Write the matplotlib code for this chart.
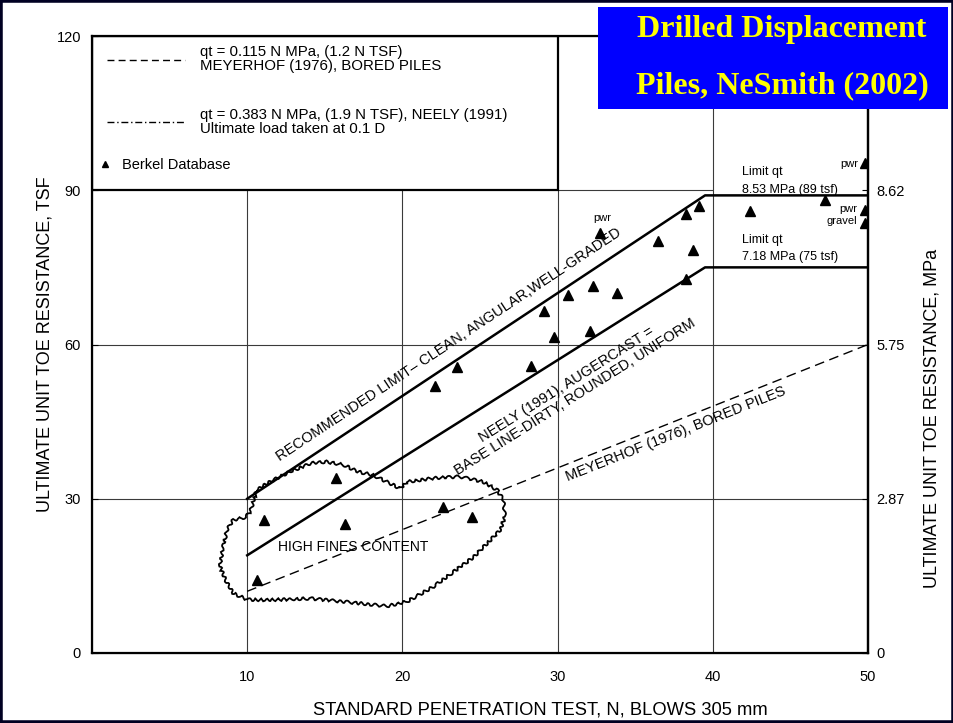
import numpy as np
import matplotlib.pyplot as plt
from matplotlib.lines import Line2D
from matplotlib.patches import Polygon, Rectangle

plt.rcParams['font.family'] = ['Liberation Sans', 'DejaVu Sans']

# Berkel database: SPT N against ultimate unit toe resistance (tsf)
spt_n = [10.6, 11.1, 15.7, 16.3, 22.1, 23.5, 22.6, 24.5, 28.3, 29.1, 29.8, 30.7, 32.1,
         32.3, 32.7, 33.8, 36.5, 38.3, 38.7, 38.3, 39.1, 42.4, 47.2, 49.8, 49.8, 49.8]
toe_tsf = [14.2, 25.9, 34.0, 25.0, 52.0, 55.6, 28.3, 26.4, 55.8, 66.5, 61.5, 69.6, 62.7,
           71.3, 81.7, 70.0, 80.2, 72.8, 78.3, 85.4, 87.0, 85.9, 88.1, 95.3, 86.1, 83.7]

# design lines (tsf)
recommended_n = [10, 39.5, 50]
recommended_q = [30, 89, 89]
neely_n = [10, 39.5, 50]
neely_q = [19, 75, 75]
meyerhof_n = [10, 50]
meyerhof_q = [12, 60]

# outline of the high fines zone
fines_n = [10.5, 10.2, 9.9, 9.1, 8.7, 8.4, 8.25, 8.6, 9.1, 10.0, 11.3, 14.1, 16.2, 19.0,
           20.3, 22.0, 24.6, 26.3, 26.6, 26.5, 26.1, 25.2, 23.7, 22.0, 20.3, 19.85, 19.0,
           18.1, 17.1, 16.2, 15.1, 14.1, 12.8, 11.7, 10.6]
fines_q = [30.4, 27.5, 26.4, 25.9, 23.9, 20.0, 16.8, 14.2, 11.6, 10.4, 10.3, 10.6, 10.0, 9.1,
           10.0, 12.9, 18.7, 23.9, 26.5, 29.8, 31.7, 33.3, 34.3, 34.0, 33.3, 32.0, 33.3,
           34.6, 35.3, 36.6, 37.2, 36.9, 35.3, 33.7, 31.7]

tsf_ticks = [0, 30, 60, 90, 120]
n_ticks = [10, 20, 30, 40, 50]
mpa_ticks = [0, 30, 60, 90]
mpa_labels = ['0', '2.87', '5.75', '8.62']

W, H = 954, 723
fig = plt.figure(figsize=(W / 100, H / 100), dpi=100)
ax = fig.add_axes([92 / W, 1 - 653 / H, 776 / W, 617 / H])
ax.set_xlim(0, 50)
ax.set_ylim(0, 120)

# grid, kept below the legend box
grid_kw = dict(color='#3a3a3a', lw=0.8, zorder=1)
ax.vlines([10, 20, 30], 0, 90, **grid_kw)
ax.vlines([40], 0, 120, **grid_kw)
ax.hlines([30, 60], 0, 50, **grid_kw)
ax.hlines([90], 30, 40, **grid_kw)

# legend frame
ax.add_patch(Rectangle((0, 90), 30, 30, fill=False, edgecolor='black', lw=1.6, zorder=3))

# design lines
ax.plot(recommended_n, recommended_q, color='black', lw=1.8, zorder=3)
ax.plot(neely_n, neely_q, color='black', lw=1.8, zorder=3)
ax.plot(meyerhof_n, meyerhof_q, color='black', lw=1.0, ls=(0, (7, 4)), zorder=3)

# high fines cloud
cloud = Polygon(np.column_stack([fines_n, fines_q]), closed=True, fill=False,
                edgecolor='black', lw=1.3, zorder=3)
cloud.set_sketch_params(scale=1.4, length=7, randomness=0.5)
ax.add_patch(cloud)
ax.text(16.8, 20.6, 'HIGH FINES CONTENT', fontsize=10, ha='center', va='center', zorder=4)

# measured points
ax.plot(spt_n, toe_tsf, ls='none', marker='^', ms=6.5, color='black', zorder=5)

# point notes
ax.text(32.9, 84.6, 'pwr', fontsize=8, ha='center', va='center')
ax.text(49.4, 95.2, 'pwr', fontsize=8, ha='right', va='center')
ax.text(49.3, 86.3, 'pwr', fontsize=8, ha='right', va='center')
ax.text(49.3, 84.0, 'gravel', fontsize=8, ha='right', va='center')
ax.text(41.9, 93.6, 'Limit qt', fontsize=9, ha='left', va='center')
ax.text(41.9, 90.1, '8.53 MPa (89 tsf)', fontsize=9, ha='left', va='center')
ax.text(41.9, 80.4, 'Limit qt', fontsize=9, ha='left', va='center')
ax.text(41.9, 77.1, '7.18 MPa (75 tsf)', fontsize=9, ha='left', va='center')

# labels along the lines
line_txt = dict(fontsize=10.5, ha='center', va='center', rotation_mode='anchor',
                transform_rotates_text=True)
ax.text(23.0, 60.0, 'RECOMMENDED LIMIT\u2013 CLEAN, ANGULAR,WELL-GRADED',
        rotation=np.degrees(np.arctan(2.0)), **line_txt)
ax.text(30.85, 51.0, 'NEELY (1991), AUGERCAST =\nBASE LINE-DIRTY, ROUNDED, UNIFORM',
        rotation=np.degrees(np.arctan(1.9)), linespacing=1.1, **line_txt)
ax.text(37.6, 42.5, 'MEYERHOF (1976), BORED PILES',
        rotation=np.degrees(np.arctan(1.2)), **line_txt)

# legend inside the frame
leg1 = ax.legend([Line2D([], [], color='black', lw=1.0, ls=(0, (5, 3))),
                  Line2D([], [], color='black', lw=1.0, ls=(0, (5, 2, 1, 2)))],
                 ['qt = 0.115 N MPa, (1.2 N TSF)\nMEYERHOF (1976), BORED PILES',
                  'qt = 0.383 N MPa, (1.9 N TSF), NEELY (1991)\nUltimate load taken at 0.1 D'],
                 loc='upper left', bbox_to_anchor=(0.019, 0.985), frameon=False,
                 fontsize=10.8, handlelength=5.2, handletextpad=1.0, labelspacing=2.3,
                 borderpad=0, borderaxespad=0)
for t in leg1.get_texts():
    t.set_linespacing(1.0)
ax.add_artist(leg1)
ax.legend([Line2D([], [], ls='none', marker='^', ms=5, color='black')], ['Berkel Database'],
          loc='center left', bbox_to_anchor=(0.009, 0.791), frameon=False, fontsize=10.5,
          handlelength=0.8, handletextpad=0.75, borderpad=0, borderaxespad=0)

# axes
for side in ['left', 'right', 'top', 'bottom']:
    ax.spines[side].set_linewidth(1.6)
ax.set_xticks(n_ticks)
ax.set_yticks(tsf_ticks)
ax.tick_params(axis='x', length=0, pad=12, labelsize=10.5)
ax.tick_params(axis='y', direction='in', length=4, pad=8, labelsize=10.5)
ax.set_xlabel('STANDARD PENETRATION TEST, N, BLOWS 305 mm', fontsize=13.2)
ax.xaxis.set_label_coords(0.578, -0.079)
ax.set_ylabel('ULTIMATE UNIT TOE RESISTANCE, TSF', fontsize=13)
ax.yaxis.set_label_coords(-0.05, 0.5)

ax2 = ax.twinx()
ax2.set_ylim(0, 120)
ax2.set_yticks(mpa_ticks)
ax2.set_yticklabels(mpa_labels)
ax2.tick_params(axis='y', direction='in', length=4, pad=6, labelsize=10.5)
ax2.set_ylabel('ULTIMATE UNIT TOE RESISTANCE, MPa', fontsize=13)
ax2.yaxis.set_label_coords(1.072, 0.38)
ax2.spines['right'].set_linewidth(1.6)

# slide title
fig.add_artist(Rectangle((598 / W, 1 - 109 / H), 350 / W, 102 / H, transform=fig.transFigure,
                         facecolor='#0000ff', edgecolor='none', zorder=10))
for ypix, line in [(29, 'Drilled Displacement'), (86, 'Piles, NeSmith (2002)')]:
    fig.text(782 / W, 1 - ypix / H, line, ha='center', va='center', fontsize=23,
             fontweight='bold', color='#ffff00', family='Liberation Serif', zorder=11)

fig.add_artist(Rectangle((0, 0), 1, 1, transform=fig.transFigure, fill=False,
                         edgecolor='#000022', lw=4, zorder=12))

fig.savefig('out.png', dpi=100)
